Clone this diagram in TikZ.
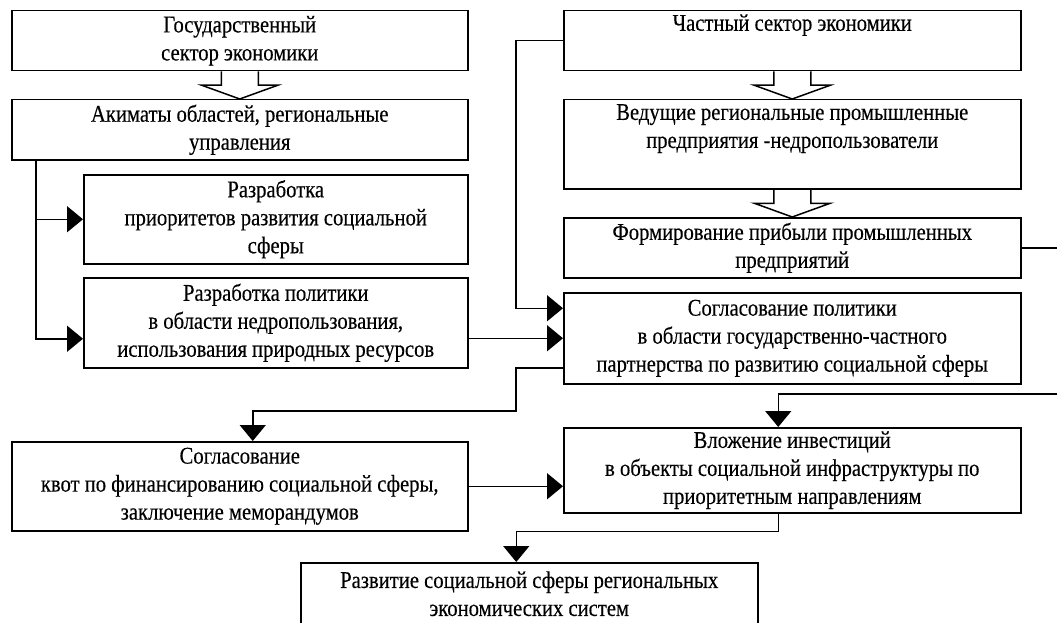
\documentclass[tikz,border=0pt]{standalone}
\usepackage{fontspec}
\setmainfont[FakeStretch=0.86,FakeBold=0.3]{Liberation Serif}
\usetikzlibrary{arrows.meta,calc}
\newcommand{\fs}{\fontsize{24}{28}\selectfont}
\tikzset{
  box/.style={draw, line width=1.5pt, anchor=north west, inner sep=0pt, align=center, font=\fs},
  conn/.style={line width=1.5pt},
  arr/.style={conn, -{Triangle[length=16pt,width=26pt]}},
}
\newcommand{\hollowarrow}[2]{%
  \draw[conn, line join=miter] let \p1=(#1.south), \p2=(#2.north), \n1={(\y1+\y2)/2} in
   (\x1-18.5pt,\y1) -- (\x1-18.5pt,\n1) -- (\x1-38pt,\n1) -- (\x1,\y2) -- (\x1+38pt,\n1) -- (\x1+18.5pt,\n1) -- (\x1+18.5pt,\y1);}
\begin{document}
\begin{tikzpicture}[x=1pt,y=-1pt]
\useasboundingbox (0,0) rectangle (1057,623);
\clip (0,0) rectangle (1057,623);
% left column
\node[box, minimum width=456pt, minimum height=60pt] (A) at (11,10) {Государственный\\сектор экономики};
\node[box, minimum width=456pt, minimum height=60pt] (B) at (11,99) {Акиматы областей, региональные\\управления};
\node[box, minimum width=384pt, minimum height=89pt] (C) at (83,174) {Разработка\\приоритетов развития социальной\\сферы};
\node[box, minimum width=384pt, minimum height=90pt] (D) at (83,277) {Разработка политики\\в области недропользования,\\использования природных ресурсов};
\node[box, minimum width=456pt, minimum height=89pt] (I) at (11,441) {Согласование\\квот по финансированию социальной сферы,\\заключение меморандумов};
% right column
\node[box, minimum width=457pt, minimum height=60pt] (E) at (563,10) {Частный сектор экономики\\\strut};
\node[box, minimum width=457pt, minimum height=89pt] (F) at (563,99) {Ведущие региональные промышленные\\предприятия -недропользователи\\\strut};
\node[box, minimum width=457pt, minimum height=60pt] (G) at (563,217) {Формирование прибыли промышленных\\предприятий};
\node[box, minimum width=457pt, minimum height=91pt] (H) at (563,292) {Согласование политики\\в области государственно-частного\\партнерства по развитию социальной сферы};
\node[box, minimum width=457pt, minimum height=85pt] (J) at (563,427) {Вложение инвестиций\\в объекты социальной инфраструктуры по\\приоритетным направлениям};
\node[box, minimum width=457pt, minimum height=62pt] (K) at (300,562) {Развитие социальной сферы региональных\\экономических систем};
% hollow arrows
\hollowarrow{A}{B}
\hollowarrow{E}{F}
\hollowarrow{F}{G}
% connectors
\coordinate (bl) at ([xshift=25pt]B.south west);
\draw[arr] (bl) |- (C.west);
\draw[arr] (bl) |- ([yshift=-16pt]D.west);
\draw[arr] (E.west) -- ++(-47,0) |- ([yshift=30pt]H.west);
\draw[arr] (H.west -| D.east) -- (H.west);
\draw[arr] ([yshift=-29.5pt]H.west) -- ++(-47,0) -- ++(0,43) -| ([xshift=13pt]I.north);
\draw[conn] (G.east) -- ++(45,0);
\coordinate (jin) at (1060,394);
\draw[arr] (jin) -| ([xshift=-14pt]J.north);
\draw[arr] (I.east) -- (I.east -| J.west);
\draw[arr] ([xshift=-14pt]J.south) -- ++(0,18) -| ([xshift=-13pt]K.north);
\end{tikzpicture}
\end{document}
